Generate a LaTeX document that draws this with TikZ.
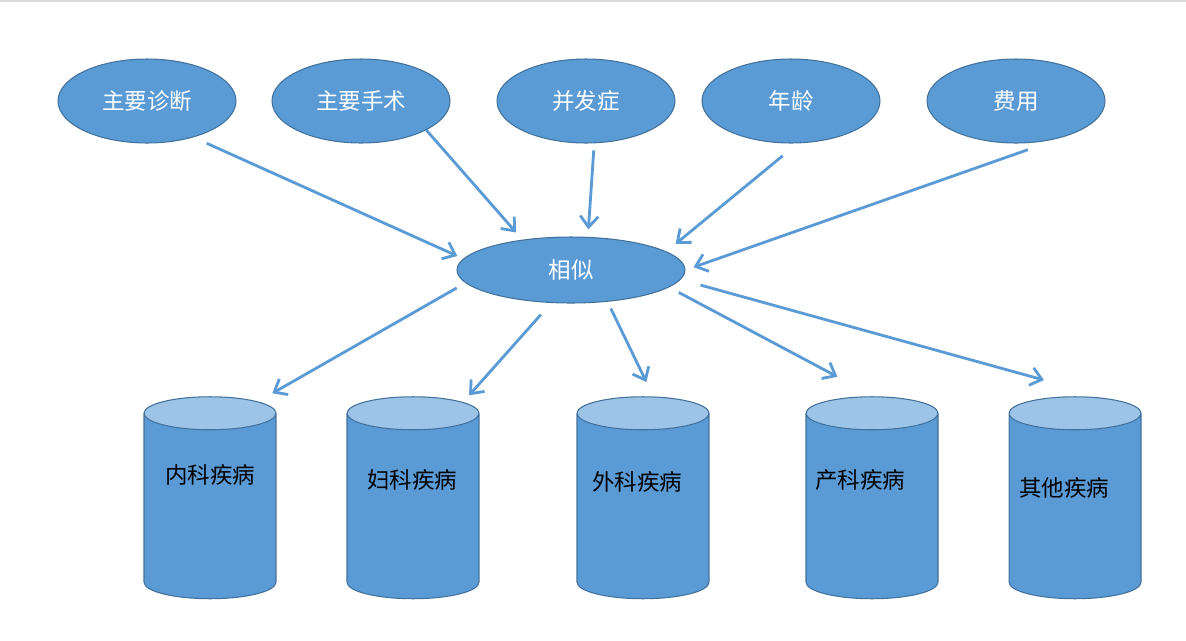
\documentclass[tikz,border=0pt]{standalone}
\usepackage{fontspec}
\setmainfont{Noto Sans CJK SC}
\usetikzlibrary{shapes.geometric,arrows.meta,positioning}
\definecolor{boxblue}{HTML}{5B9BD5}
\definecolor{edgeblue}{HTML}{41719C}
\definecolor{lidblue}{HTML}{9DC3E6}

\begin{document}
\begin{tikzpicture}[x=0.02cm, y=-0.02cm,
    factor/.style={ellipse, fill=boxblue, draw=edgeblue, line width=0.6pt,
        minimum width=3.56cm, minimum height=1.68cm, inner sep=0pt,
        text=white, font=\fontsize{12.8}{15}\selectfont},
    db/.style={cylinder, shape border rotate=90, aspect=0.25, draw=edgeblue, line width=0.6pt,
        cylinder uses custom fill, cylinder body fill=boxblue, cylinder end fill=lidblue,
        minimum width=2.64cm, minimum height=4.04cm, inner xsep=1.32cm, inner ysep=0pt},
    dbtext/.style={text=black, inner sep=0pt, font=\fontsize{12.8}{15}\selectfont},
    link/.style={draw=boxblue, line width=1.6pt, -{Straight Barb[length=2.2mm,width=3.6mm]}}]
    \useasboundingbox (0,0) rectangle (1186,640);
    \draw [black!15, line width=1pt] (0,1) -- (1186,1);

    % Factors
    \node [factor] (zd) at (147,101) {主要诊断};
    \node [factor] (ss) at (361,101) {主要手术};
    \node [factor] (bf) at (586,101) {并发症};
    \node [factor] (nl) at (791,101) {年龄};
    \node [factor] (fy) at (1016,101) {费用};

    % Similarity
    \node [factor, minimum width=4.56cm, minimum height=1.32cm] (xs) at (571,270) {相似};

    % Disease stores
    \node [db, label={[dbtext, shift={(0,-39.5)}]center:内科疾病}] (nk) at (210,514.5) {};
    \node [db, label={[dbtext, shift={(-1,-34.5)}]center:妇科疾病}] (fk) at (413,514.5) {};
    \node [db, label={[dbtext, shift={(-6,-32.5)}]center:外科疾病}] (wk) at (643,514.5) {};
    \node [db, label={[dbtext, shift={(-12,-34.5)}]center:产科疾病}] (ck) at (872,514.5) {};
    \node [db, label={[dbtext, shift={(-11,-26.5)}]center:其他疾病}] (qt) at (1075,514.5) {};

    % Into similarity
    \draw [link, shorten <=0.29cm, shorten >=0.13cm] (zd.-38.2) -- (xs.174);
    \draw [link, shorten >=0.19cm] (ss.-24.4) -- (xs.148.5);
    \draw [link, shorten <=0.14cm, shorten >=0.15cm] (bf.-79.9) -- (xs.63.2);
    \draw [link, shorten <=0.39cm, shorten >=0.24cm] (nl.-81.8) -- (xs.11.8);
    \draw [link, shorten <=0.84cm, shorten >=0.17cm] (fy.-34.5) -- (xs.0.6);

    % Out to stores
    \draw [link, shorten <=0.2cm, shorten >=0.33cm] (xs.-173.6) -- (nk.67.8);
    \draw [link, shorten <=0.31cm, shorten >=0.18cm] (xs.-121.3) -- (fk.66.3);
    \draw [link, shorten <=0.15cm, shorten >=0.32cm] (xs.-41.2) -- (wk.85.6);
    \draw [link, shorten <=0.22cm, shorten >=0.83cm] (xs.-10.4) -- (ck.89.2);
    \draw [link, shorten <=0.41cm, shorten >=1.81cm] (xs.-5.1) -- (qt.63.9);
\end{tikzpicture}
\end{document}
